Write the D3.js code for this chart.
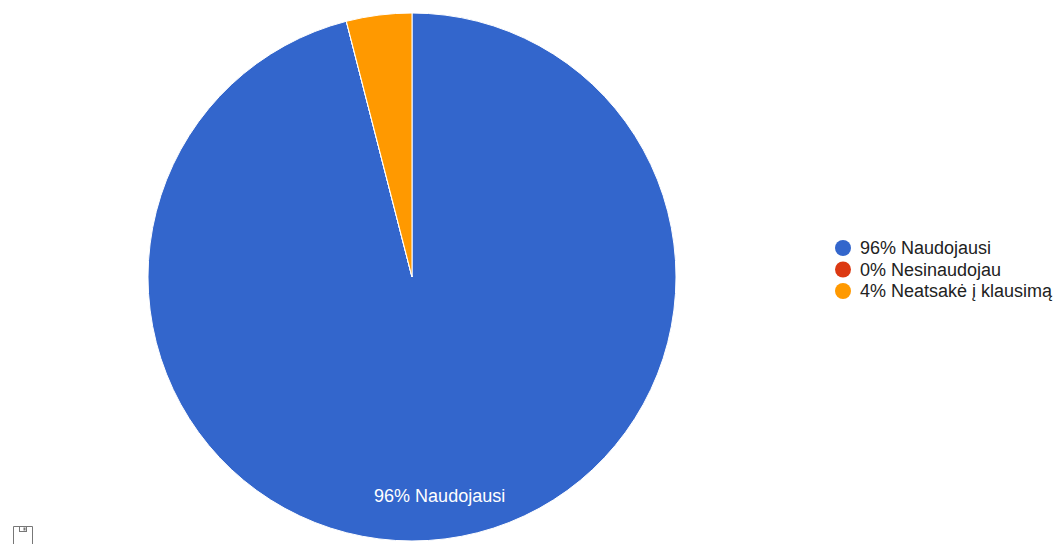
<!DOCTYPE html>
<html><head><meta charset="utf-8">
<script src="https://cdn.jsdelivr.net/npm/d3@7"></script>
<style>body{margin:0;background:#fff}svg{display:block}</style>
</head><body>
<svg id="c" width="1060" height="544"></svg>
<script>
const categories = ["Naudojausi", "Nesinaudojau", "Neatsakė į klausimą"];
const values = [96, 0, 4];
const colors = ["#3366cc", "#dc3912", "#ff9900"];

const svg = d3.select("#c");
const W = 1060, H = 544;
const cx = 412, cy = 277, R = 264;
const total = d3.sum(values);
const pct = v => Math.round(v / total * 100) + "%";

const pie = d3.pie().value(d => d).sort(null);
const arcs = pie(values);
const arc = d3.arc().innerRadius(0).outerRadius(R);
const g = svg.append("g").attr("transform", `translate(${cx},${cy})`);
g.selectAll("path").data(arcs).join("path")
  .attr("d", arc)
  .attr("fill", (d, i) => colors[i])
  .attr("stroke", "#fff").attr("stroke-width", 1);

const labelArc = d3.arc().innerRadius(R * 0.835).outerRadius(R * 0.835);
g.selectAll("text.lbl").data(arcs.filter(d => d.value / total > 0.05)).join("text")
  .attr("class", "lbl")
  .attr("transform", d => `translate(${labelArc.centroid(d)})`)
  .attr("text-anchor", "middle").attr("dy", "0.35em")
  .attr("fill", "#fff")
  .style("font-family", "Liberation Sans, Arial, sans-serif").style("font-size", "18px")
  .text(d => pct(d.value) + " " + categories[d.index]);

const lg = svg.append("g").attr("transform", "translate(843,248)");
const item = lg.selectAll("g").data(categories).join("g")
  .attr("transform", (d, i) => `translate(0,${i * 21.5})`);
item.append("circle").attr("r", 8).attr("fill", (d, i) => colors[i]);
item.append("text").attr("x", 17).attr("dy", "0.35em")
  .attr("fill", "#222")
  .style("font-family", "Liberation Sans, Arial, sans-serif").style("font-size", "18px")
  .text((d, i) => pct(values[i]) + " " + d);

// save icon
const ic = svg.append("g").attr("transform", "translate(13,526)").attr("fill", "none").attr("stroke", "#777").attr("stroke-width", 1);
ic.append("path").attr("d", "M0.5,18 V0.5 H19.5 V18");
ic.append("rect").attr("x", 6.5).attr("y", 0.5).attr("width", 7).attr("height", 5);
ic.append("rect").attr("x", 10.5).attr("y", 1.5).attr("width", 2).attr("height", 3).attr("fill", "#777").attr("stroke", "none");
</script>
</body></html>
